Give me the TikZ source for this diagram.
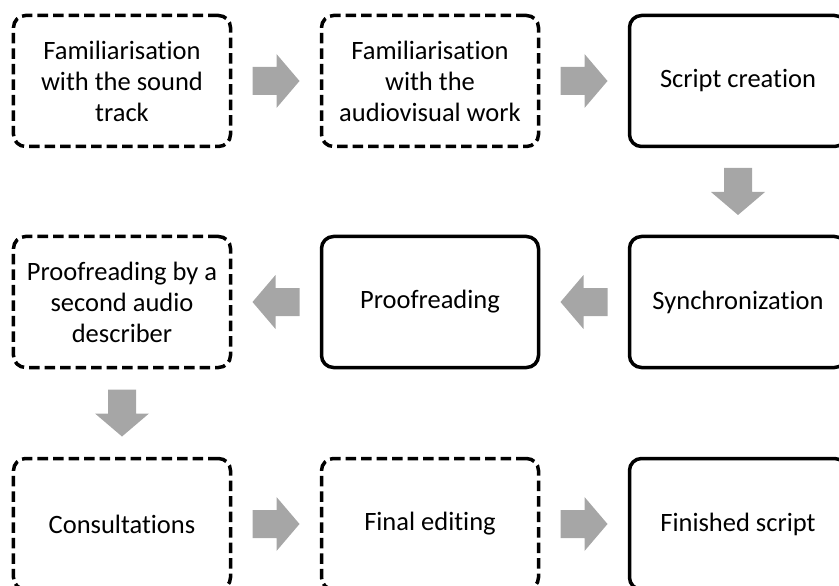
\documentclass[tikz,border=0pt]{standalone}
\usepackage{fontspec}
\setmainfont{Carlito}[RawFeature={-liga;-clig;-calt;-dlig}]
\usetikzlibrary{calc}
\definecolor{arrowgray}{RGB}{166,166,166}
\begin{document}
\begin{tikzpicture}[x=1bp,y=-1bp,
  stage/.style={draw=black, line width=3.5bp, rounded corners=12bp,
    minimum width=217bp, minimum height=131bp, inner sep=0pt,
    align=center, font=\fontsize{26.5bp}{31bp}\selectfont},
  optional/.style={stage, dash pattern=on 10.5bp off 5bp},
  blockarrow/.pic={\fill[arrowgray] (-23.5,-14) -- (0.5,-14) -- (0.5,-27)
    -- (23.5,0) -- (0.5,27) -- (0.5,14) -- (-23.5,14) -- cycle;}
]
\useasboundingbox (0,0) rectangle (839,586);
\clip (0,0) rectangle (839,586);

% stages of the workflow
\node[optional] (famsound) at (122,81) {Familiarisation\\with the sound\\track};
\node[optional] (famav) at (430,81) {Familiarisation\\with the\\audiovisual work};
\node[stage] (script) at (738,81) {Script creation};
\node[stage] (sync) at (738,302) {Synchronization};
\node[stage] (proof) at (430,302) {Proofreading};
\node[optional] (proof2) at (122,302) {Proofreading by a\\second audio\\describer};
\node[optional] (consult) at (122,524) {Consultations};
\node[optional] (final) at (430,524) {Final editing};
\node[stage] (finished) at (738,524) {Finished script};

% block arrows between consecutive stages
\path ($(famsound.east)!0.5!(famav.west)$) pic {blockarrow};
\path ($(famav.east)!0.5!(script.west)$) pic {blockarrow};
\path ($(script.south)!0.5!(sync.north)$) pic[rotate=-90] {blockarrow};
\path ($(sync.west)!0.5!(proof.east)$) pic[rotate=180] {blockarrow};
\path ($(proof.west)!0.5!(proof2.east)$) pic[rotate=180] {blockarrow};
\path ($(proof2.south)!0.5!(consult.north)$) pic[rotate=-90] {blockarrow};
\path ($(consult.east)!0.5!(final.west)$) pic {blockarrow};
\path ($(final.east)!0.5!(finished.west)$) pic {blockarrow};
\end{tikzpicture}
\end{document}
